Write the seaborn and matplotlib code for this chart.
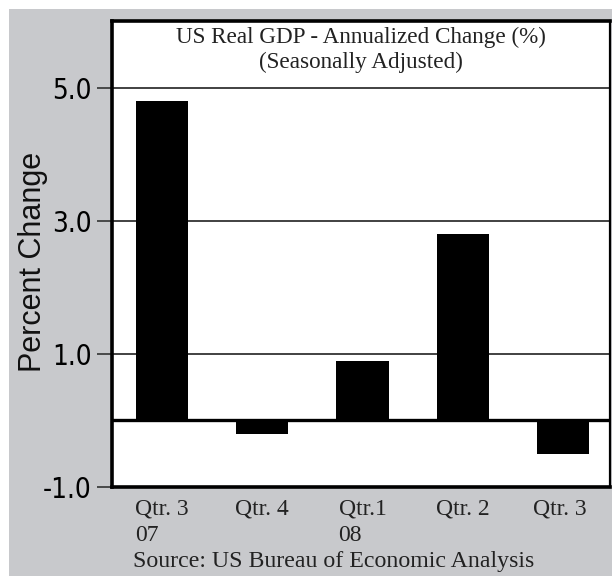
import matplotlib
matplotlib.use("Agg")
import matplotlib.pyplot as plt
import seaborn as sns
import pandas as pd
from matplotlib.patches import Rectangle

# data
quarters = ["Qtr. 3\n07", "Qtr. 4", "Qtr.1\n08", "Qtr. 2", "Qtr. 3 "]
gdp_change = [4.8, -0.2, 0.9, 2.8, -0.5]
y_ticks = [-1.0, 1.0, 3.0, 5.0]

df = pd.DataFrame({"quarter": quarters, "change": gdp_change})

serif = ["Liberation Serif", "DejaVu Serif"]
narrow = ["DejaVu Sans"]
sans = ["Liberation Sans", "DejaVu Sans"]

fig = plt.figure(figsize=(6.12, 5.76), dpi=100, facecolor="white")
# grey panel behind everything, white strip at top and left
fig.patches.append(Rectangle((9 / 612, 0), 1, 1 - 9 / 576, transform=fig.transFigure,
                             facecolor="#c8c9cc", edgecolor="none", zorder=-5))

ax = fig.add_axes([112 / 612, 1 - 487 / 576, 498 / 612, 466 / 576])
ax.set_zorder(2)
ax.set_facecolor("white")

sns.barplot(data=df, x="quarter", y="change", color="black", width=0.52,
            saturation=1, ax=ax, zorder=3)

ax.set_xlim(-0.5, 4.47)
ax.set_ylim(-1.0, 6.0)
ax.set_yticks(y_ticks)
ax.set_yticklabels([f"{v:.1f}" for v in y_ticks], family=narrow,
                   fontstretch="condensed", fontsize=20, color="black")
ax.tick_params(axis="y", length=11, width=1.2, pad=3.5, color="#333333")
ax.tick_params(axis="x", length=0, pad=8)
for lbl in ax.get_xticklabels():
    lbl.set_family(serif)
    lbl.set_fontsize(17)
    lbl.set_multialignment("left")
    lbl.set_linespacing(1.37)
    lbl.set_color("#222222")

# horizontal grid lines and the zero line
for v in y_ticks[1:]:
    ax.axhline(v, color="#333333", lw=1.3, zorder=1)
ax.axhline(0, color="black", lw=2.4, zorder=4)

for side in ["left", "top", "bottom", "right"]:
    ax.spines[side].set_color("black")
    ax.spines[side].set_linewidth(2.6)
ax.spines["right"].set_linewidth(1.6)

ax.set_xlabel("")
ax.set_ylabel("Percent Change", family=sans, fontsize=22, color="#111111")
ax.yaxis.set_label_coords(-0.128, 0.483)

ax.text(0.5, 0.987, "US Real GDP - Annualized Change (%)\n(Seasonally Adjusted)",
        transform=ax.transAxes, ha="center", va="top", family=serif,
        fontsize=16.7, color="#222222", linespacing=1.25)

fig.text(133 / 612, 9 / 576, "Source: US Bureau of Economic Analysis",
         family=serif, fontsize=17.2, color="#222222", ha="left", va="baseline")

fig.savefig("out.png", dpi=100, facecolor=fig.get_facecolor())
